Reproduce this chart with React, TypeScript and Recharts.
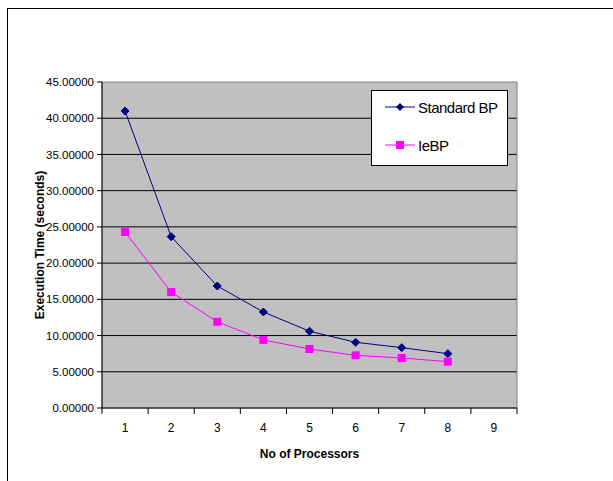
import {
  CartesianGrid,
  Legend,
  Line,
  LineChart,
  ReferenceArea,
  XAxis,
  YAxis,
} from "recharts";

const processors = ["1", "2", "3", "4", "5", "6", "7", "8", "9"];
const standardBP = [41.0, 23.65, 16.84, 13.25, 10.6, 9.07, 8.33, 7.5, null];
const ieBP = [24.3, 16.0, 11.9, 9.4, 8.14, 7.27, 6.9, 6.4, null];
const yTicks = [0, 5, 10, 15, 20, 25, 30, 35, 40, 45];
const gridValues = [5, 10, 15, 20, 25, 30, 35, 40];
const seriesOrder = ["standard", "ie"];

const data = processors.map((p, i) => ({
  name: p,
  standard: standardBP[i],
  ie: ieBP[i],
}));

const NAVY = "#000080";
const MAGENTA = "#FF00FF";
const FONT = "'Liberation Sans', Arial, sans-serif";

const Diamond = (props: any) => {
  const { cx, cy } = props;
  if (cx == null || cy == null || props.value == null) return null;
  return (
    <polygon
      points={`${cx},${cy - 4} ${cx + 4},${cy} ${cx},${cy + 4} ${cx - 4},${cy}`}
      fill={NAVY}
      stroke={NAVY}
    />
  );
};

const Square = (props: any) => {
  const { cx, cy } = props;
  if (cx == null || cy == null || props.value == null) return null;
  return <rect x={cx - 4} y={cy - 4} width={8} height={8} fill={MAGENTA} />;
};

// tick label at the band centre, tick marks at the band edges (Excel style)
const CategoryTick = (props: any) => {
  const { x, y, payload, index, visibleTicksCount, width } = props;
  const half =
    payload && payload.offset ? payload.offset : width / visibleTicksCount / 2;
  const axisY = y - 15;
  return (
    <g>
      <line x1={x - half} x2={x - half} y1={axisY} y2={axisY + 6} stroke="#000" />
      {index === visibleTicksCount - 1 && (
        <line x1={x + half} x2={x + half} y1={axisY} y2={axisY + 6} stroke="#000" />
      )}
      <text x={x} y={y + 9} textAnchor="middle" fontSize={12} fill="#000">
        {payload.value}
      </text>
    </g>
  );
};

const LegendBox = ({ payload }: any) => {
  const items = [...(payload || [])].sort(
    (a: any, b: any) => seriesOrder.indexOf(a.dataKey) - seriesOrder.indexOf(b.dataKey)
  );
  return (
    <div
      style={{
        width: 137,
        height: 76,
        boxSizing: "border-box",
        border: "1px solid #000",
        background: "#fff",
        fontFamily: FONT,
        fontSize: 15,
        letterSpacing: -0.5,
        paddingTop: 7,
      }}
    >
      {items.map((entry: any) => {
        const isStd = entry.dataKey === "standard";
        return (
          <div
            key={entry.value}
            style={{ display: "flex", alignItems: "center", height: 18, marginBottom: 20 }}
          >
            <svg width={46} height={18}>
              <line x1={13} x2={43} y1={9} y2={9} stroke={entry.color} />
              {isStd ? (
                <polygon points="28,5 32,9 28,13 24,9" fill={NAVY} />
              ) : (
                <rect x={24} y={5} width={8} height={8} fill={MAGENTA} />
              )}
            </svg>
            <span style={{ color: "#000" }}>{entry.value}</span>
          </div>
        );
      })}
    </div>
  );
};

export default function App() {
  return (
    <div
      style={{
        position: "fixed",
        left: 7,
        top: 8,
        width: 606,
        height: 473,
        borderLeft: "1px solid #000",
        borderTop: "1px solid #000",
        overflow: "hidden",
        background: "#fff",
        fontFamily: FONT,
      }}
    >
      <LineChart
        width={600}
        height={470}
        data={data}
        margin={{ top: 73, right: 91, left: 0, bottom: 16 }}
        style={{ fontFamily: FONT }}
      >
        <CartesianGrid
          fill="#C0C0C0"
          vertical={false}
          stroke="#000"
          horizontalValues={gridValues}
        />
        <ReferenceArea
          x1="1"
          x2="9"
          y1={0}
          y2={45}
          fill="none"
          stroke="#808080"
          ifOverflow="visible"
        />
        <XAxis
          dataKey="name"
          scale="band"
          height={55}
          tickSize={6}
          tickMargin={9}
          tickLine={false}
          axisLine={{ stroke: "#000" }}
          tick={<CategoryTick />}
          interval={0}
          label={{
            value: "No of Processors",
            position: "insideBottom",
            offset: 5,
            style: { fontWeight: "bold", fontSize: 12, fill: "#000" },
          }}
        />
        <YAxis
          width={94}
          domain={[0, 45]}
          ticks={yTicks}
          tickFormatter={(v: number) => v.toFixed(5)}
          tickSize={5}
          tickMargin={3}
          tick={{ fontSize: 11.5, fill: "#000" }}
          tickLine={{ stroke: "#000" }}
          axisLine={{ stroke: "#000" }}
          label={{
            value: "Execution Time (seconds)",
            angle: -90,
            position: "insideLeft",
            offset: 32,
            style: { textAnchor: "middle", fontWeight: "bold", fontSize: 12, fill: "#000" },
          }}
        />
        <Legend
          layout="horizontal"
          verticalAlign="middle"
          align="center"
          content={<LegendBox />}
          wrapperStyle={{ position: "absolute", left: 363, top: 81, width: 137, height: 76 }}
        />
        <Line
          type="linear"
          dataKey="standard"
          name="Standard BP"
          stroke={NAVY}
          strokeWidth={1}
          dot={<Diamond />}
          activeDot={false}
          isAnimationActive={false}
        />
        <Line
          type="linear"
          dataKey="ie"
          name="IeBP"
          stroke={MAGENTA}
          strokeWidth={1}
          dot={<Square />}
          activeDot={false}
          isAnimationActive={false}
        />
      </LineChart>
    </div>
  );
}
